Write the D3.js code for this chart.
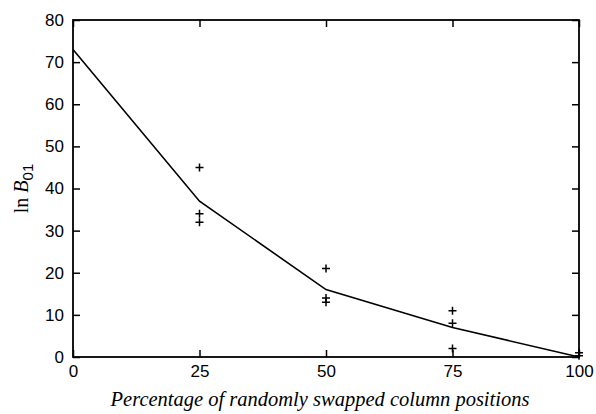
<!DOCTYPE html>
<html><head><meta charset="utf-8">
<script src="https://cdn.jsdelivr.net/npm/d3@7"></script>
<style>body{margin:0;background:#fff}</style>
</head><body>
<svg id="c" width="596" height="414"></svg>
<script>
const lineX = [0, 25, 50, 75, 100];
const lineY = [73, 37, 16, 7, 0];
const ptsX = [25, 25, 25, 50, 50, 50, 75, 75, 75, 100, 100];
const ptsY = [45, 34, 32, 21, 14, 13, 11, 8, 2, 1, 0.3];
const xTicks = [0, 25, 50, 75, 100];
const yTicks = [0, 10, 20, 30, 40, 50, 60, 70, 80];

const L = 73, R = 579, T = 20, B = 357;
const svg = d3.select("#c");
const x = d3.scaleLinear().domain([0, 100]).range([L, R]);
const y = d3.scaleLinear().domain([0, 80]).range([B, T]);
const tk = 7;
const font = "Liberation Sans, Arial, Helvetica, sans-serif";

const ax = svg.append("g").attr("transform", `translate(0,${B})`)
  .call(d3.axisBottom(x).tickValues(xTicks).tickSize(-tk).tickPadding(8).tickFormat(d3.format("d")));
const axT = svg.append("g").attr("transform", `translate(0,${T})`)
  .call(d3.axisTop(x).tickValues(xTicks).tickSize(-tk).tickFormat(""));
const ay = svg.append("g").attr("transform", `translate(${L},0)`)
  .call(d3.axisLeft(y).tickValues(yTicks).tickSize(-tk).tickPadding(9));
const ayR = svg.append("g").attr("transform", `translate(${R},0)`)
  .call(d3.axisRight(y).tickValues(yTicks).tickSize(-tk).tickFormat(""));
[ax, axT, ay, ayR].forEach(g => {
  g.select(".domain").remove();
  g.selectAll("line").attr("stroke", "#000").attr("stroke-width", 1.5);
  g.selectAll("text").attr("font-family", font).attr("font-size", 17).attr("fill", "#000");
});
svg.append("rect").attr("x", L).attr("y", T).attr("width", R - L).attr("height", B - T)
  .attr("fill", "none").attr("stroke", "#000").attr("stroke-width", 1.8);

const line = d3.line().x(d => x(d[0])).y(d => y(d[1]));
svg.append("path").datum(lineX.map((v, i) => [v, lineY[i]]))
  .attr("d", line).attr("fill", "none").attr("stroke", "#000").attr("stroke-width", 1.6);

const s = 4;
svg.append("g").selectAll("path").data(ptsX.map((v, i) => [v, ptsY[i]])).join("path")
  .attr("d", d => `M${x(d[0]) - s},${y(d[1])}H${x(d[0]) + s}M${x(d[0])},${y(d[1]) - s}V${y(d[1]) + s}`)
  .attr("stroke", "#000").attr("stroke-width", 1.5).attr("fill", "none");

svg.append("text").attr("x", 320).attr("y", 406).attr("text-anchor", "middle")
  .attr("font-family", "Liberation Serif, Times New Roman, serif").attr("font-style", "italic")
  .attr("font-size", 20.5).text("Percentage of randomly swapped column positions");

const yl = svg.append("text").attr("transform", `translate(28,${(T + B) / 2}) rotate(-90)`)
  .attr("text-anchor", "middle").attr("font-family", "Liberation Serif, Times New Roman, serif").attr("font-size", 20);
yl.append("tspan").text("ln ");
yl.append("tspan").attr("font-style", "italic").text("B");
yl.append("tspan").attr("font-family", font).attr("font-size", 15).attr("dy", 5).text("01");
</script>
</body></html>
